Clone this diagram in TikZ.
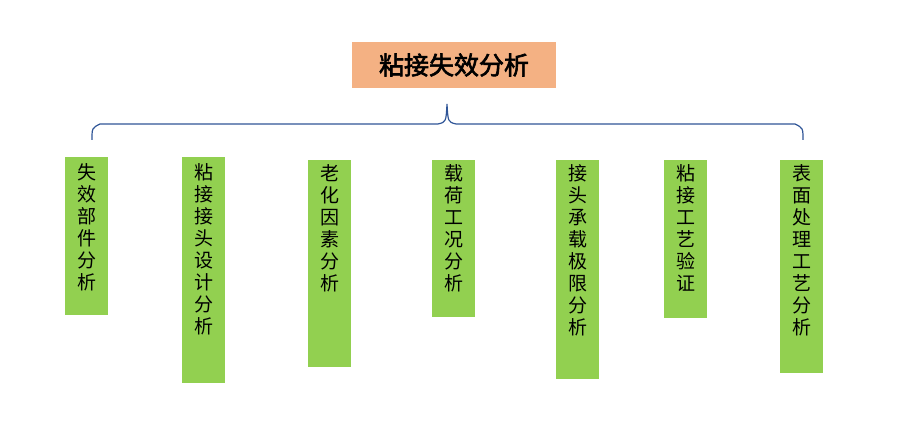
\documentclass[tikz,border=0pt]{standalone}
\usepackage{fontspec}
\newfontfamily\cjk{Noto Sans CJK SC}[AutoFakeBold=2.5]
\definecolor{titleorange}{HTML}{F4B183}
\definecolor{boxgreen}{HTML}{92D050}
\definecolor{bracblue}{HTML}{2F5597}
\begin{document}
\begin{tikzpicture}[x=1pt,y=-1pt,
  item/.style={fill=boxgreen,anchor=north west,minimum width=43pt,
               inner sep=0pt},
  txt/.style={anchor=north,font=\cjk\fontsize{19}{22}\selectfont,
              align=center,inner sep=0pt}
]
\useasboundingbox (0,0) rectangle (910,435);

% ---- title --------------------------------------------------
\node[fill=titleorange,minimum width=204pt,minimum height=46pt,
      font=\cjk\bfseries\fontsize{25}{28}\selectfont] (title) at (454,65) {粘接失效分析};

% ---- brace --------------------------------------------------
\draw[bracblue,line width=1.2pt]
  (92,140) .. controls (92,128) .. (100,124) -- (438,124)
  .. controls (446,122) .. (447,104)
  .. controls (448,122) .. (456,124) -- (795,124)
  .. controls (803,128) .. (803,140);

% ---- branches -----------------------------------------------
\node[item,minimum height=158pt] (b1) at (65,157) {};
\node[txt] at ([yshift=-6pt]b1.north) {失\\效\\部\\件\\分\\析};
\node[item,minimum height=226pt] (b2) at (182,157) {};
\node[txt] at ([yshift=-6pt]b2.north) {粘\\接\\接\\头\\设\\计\\分\\析};
\node[item,minimum height=207pt] (b3) at (308,160) {};
\node[txt] at ([yshift=-4pt]b3.north) {老\\化\\因\\素\\分\\析};
\node[item,minimum height=157pt] (b4) at (432,160) {};
\node[txt] at ([yshift=-4pt]b4.north) {载\\荷\\工\\况\\分\\析};
\node[item,minimum height=219pt] (b5) at (556,160) {};
\node[txt] at ([yshift=-4pt]b5.north) {接\\头\\承\\载\\极\\限\\分\\析};
\node[item,minimum height=158pt] (b6) at (664,160) {};
\node[txt] at ([yshift=-4pt]b6.north) {粘\\接\\工\\艺\\验\\证};
\node[item,minimum height=213pt] (b7) at (780,160) {};
\node[txt] at ([yshift=-4pt]b7.north) {表\\面\\处\\理\\工\\艺\\分\\析};

\end{tikzpicture}
\end{document}
